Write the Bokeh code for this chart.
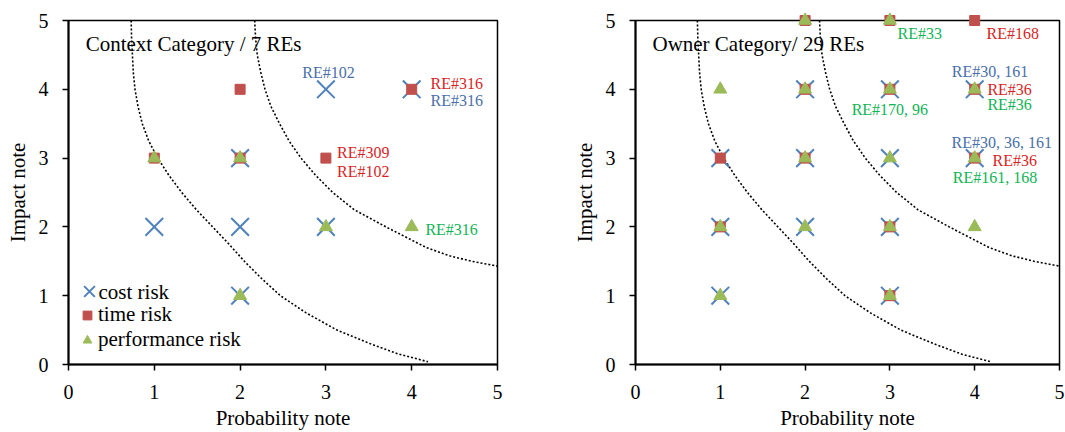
from bokeh.plotting import figure
from bokeh.layouts import row
from bokeh.models import Legend, LegendItem, FixedTicker, Range1d, Label
from bokeh.core.properties import value
from bokeh.embed import file_html
from bokeh.resources import INLINE

# ---------------- data ----------------
ticks = [0, 1, 2, 3, 4, 5]

# Context category (7 REs)
ctx_cost_x = [1, 2, 2, 3, 3, 4, 2]
ctx_cost_y = [2, 2, 3, 4, 2, 4, 1]
ctx_time_x = [1, 2, 2, 3, 4]
ctx_time_y = [3, 4, 3, 3, 4]
ctx_perf_x = [1, 2, 3, 4, 2]
ctx_perf_y = [3, 3, 2, 2, 1]

# Owner category (29 REs)
own_cost_x = [2, 3, 4, 1, 2, 3, 4, 1, 2, 3, 1, 3]
own_cost_y = [4, 4, 4, 3, 3, 3, 3, 2, 2, 2, 1, 1]
own_time_x = [2, 3, 4, 2, 3, 4, 1, 2, 4, 1, 3, 3]
own_time_y = [5, 5, 5, 4, 4, 4, 3, 3, 3, 2, 2, 1]
own_perf_x = [2, 3, 1, 2, 3, 4, 2, 3, 4, 1, 2, 3, 4, 1, 3]
own_perf_y = [5, 5, 4, 4, 4, 4, 3, 3, 3, 2, 2, 2, 2, 1, 1]

# iso-risk reference curves
inner_x = [0.73, 0.735, 0.745, 0.755, 0.775, 0.81, 0.86, 0.935, 1.04, 1.17, 1.32, 1.49,
           1.68, 1.87, 2.05, 2.25, 2.47, 2.77, 3.13, 3.52, 3.85, 4.19]
inner_y = [5.0, 4.75, 4.5, 4.25, 4.0, 3.75, 3.5, 3.25, 3.0, 2.75, 2.5, 2.25,
           2.0, 1.75, 1.5, 1.25, 1.0, 0.75, 0.5, 0.3, 0.15, 0.04]
outer_x = [2.17, 2.18, 2.20, 2.24, 2.29, 2.36, 2.46, 2.57, 2.71, 2.88, 3.08, 3.33,
           3.70, 4.17, 4.44, 4.70, 5.0]
outer_y = [5.0, 4.75, 4.5, 4.25, 4.0, 3.75, 3.5, 3.25, 3.0, 2.75, 2.5, 2.25,
           2.0, 1.70, 1.58, 1.50, 1.43]

# annotations: anchor point, text, series
ctx_ann_x = [3, 4, 4, 3, 3, 4]
ctx_ann_y = [4, 4, 4, 3, 3, 2]
ctx_ann_text = ["RE#102", "RE#316", "RE#316", "RE#309", "RE#102", "RE#316"]
ctx_ann_series = ["cost", "time", "cost", "time", "time", "perf"]

own_ann_x = [3, 4, 4, 4, 4, 3, 4, 4, 4]
own_ann_y = [5, 5, 4, 4, 4, 4, 3, 3, 3]
own_ann_text = ["RE#33", "RE#168", "RE#30, 161", "RE#36", "RE#36", "RE#170, 96",
                "RE#30, 36, 161", "RE#36", "RE#161, 168"]
own_ann_series = ["perf", "time", "cost", "time", "perf", "perf", "cost", "time", "perf"]

series_names = ["cost risk", "time risk", "performance risk"]
titles = ["Context Category / 7 REs", "Owner Category/ 29 REs"]

# ---------------- styles / layout ----------------
FONT = "Liberation Serif"
MARK = {"cost": "#4F81BD", "time": "#C0504D", "perf": "#9BBB59"}
TXT = {"cost": "#4A6FAA", "time": "#D71F26", "perf": "#10B455"}

# label offsets (data units) and alignment, per annotation
ctx_off = [(0.03, 0.25, "center"), (0.22, 0.09, "left"), (0.22, -0.17, "left"),
           (0.13, 0.08, "left"), (0.13, -0.20, "left"), (0.16, -0.04, "left")]
own_off = [(0.09, -0.19, "left"), (0.14, -0.19, "left"), (0.18, 0.26, "center"),
           (0.15, 0.0, "left"), (0.15, -0.22, "left"), (0.0, -0.29, "center"),
           (0.32, 0.22, "center"), (0.21, -0.03, "left"), (0.24, -0.28, "center")]


def make_fig(width, left_border, right_border, title, cost, time, perf,
             ann, off, legend=False):
    p = figure(width=width, height=432, x_range=Range1d(0, 5), y_range=Range1d(0, 5),
               output_backend="svg", toolbar_location=None,
               min_border_left=left_border, min_border_right=right_border,
               min_border_top=20, min_border_bottom=66)
    p.grid.visible = False
    p.outline_line_color = "black"
    p.outline_line_width = 1.5
    p.background_fill_color = "white"
    p.border_fill_color = "white"

    for ax in (p.xaxis[0], p.yaxis[0]):
        ax.ticker = FixedTicker(ticks=ticks)
        ax.minor_tick_line_color = None
        ax.major_tick_in = 0
        ax.major_tick_out = 6
        ax.major_tick_line_color = "black"
        ax.major_tick_line_width = 1.5
        ax.axis_line_color = "black"
        ax.axis_line_width = 2
        ax.major_label_text_font = FONT
        ax.major_label_text_font_size = "20px"
        ax.major_label_text_color = "black"
        ax.axis_label_text_font = FONT
        ax.axis_label_text_font_size = "21px"
        ax.axis_label_text_font_style = "normal"
        ax.axis_label_text_color = "black"
        ax.major_label_standoff = 14
    p.xaxis.axis_label = "Probability note"
    p.yaxis.axis_label = "Impact note"
    p.xaxis.axis_label_standoff = 4
    p.yaxis.axis_label_standoff = 6

    for cx, cy in ((inner_x, inner_y), (outer_x, outer_y)):
        p.line(cx, cy, line_color="black", line_width=1.6, line_dash="2 2")

    r_cost = p.scatter(cost[0], cost[1], marker="x", size=25,
                       line_color=MARK["cost"], line_width=2, level="overlay")
    r_time = p.scatter(time[0], time[1], marker="square", size=10,
                       fill_color=MARK["time"], line_color=MARK["time"], level="overlay")
    r_perf = p.scatter(perf[0], perf[1], marker="triangle", size=13,
                       fill_color=MARK["perf"], line_color=MARK["perf"], level="overlay")

    p.text(x=[0.2], y=[4.66], text=[title], text_font=value(FONT),
           text_font_size="21px", text_color="black", text_baseline="middle",
           text_align="left")

    ax_, ay_, at_, as_ = ann
    for align in ("left", "center"):
        xs, ys, ts, cs = [], [], [], []
        for i in range(len(at_)):
            dx, dy, al = off[i]
            if al != align:
                continue
            xs.append(ax_[i] + dx)
            ys.append(ay_[i] + dy)
            ts.append(at_[i])
            cs.append(TXT[as_[i]])
        if xs:
            p.text(x=xs, y=ys, text=ts, text_color=cs, text_font=value(FONT),
                   text_font_size="16px", text_align=align, text_baseline="middle")

    if legend:
        common = dict(background_fill_alpha=0, border_line_alpha=0,
                      label_text_font=FONT, label_text_font_size="21px",
                      label_text_color="black", padding=0, margin=0, spacing=0)
        # larger glyph box only so that the legend's x marker gets its real size
        lg_a = Legend(items=[LegendItem(label=" ", renderers=[r_cost])],
                      location=(2, 54), glyph_width=38, glyph_height=38,
                      label_height=38, label_standoff=0, **common)
        lg_b = Legend(items=[LegendItem(label=series_names[1], renderers=[r_time]),
                             LegendItem(label=series_names[2], renderers=[r_perf])],
                      location=(8, 12), glyph_width=22, glyph_height=24,
                      label_height=24, label_standoff=0, **common)
        p.add_layout(lg_a)
        p.add_layout(lg_b)
        p.add_layout(Label(x=30, y=73, x_units="screen", y_units="screen",
                           text=series_names[0], text_font=FONT, text_font_size="21px",
                           text_color="black", text_baseline="middle"))
    return p


p1 = make_fig(507, 68, 10, titles[0],
              (ctx_cost_x, ctx_cost_y), (ctx_time_x, ctx_time_y), (ctx_perf_x, ctx_perf_y),
              (ctx_ann_x, ctx_ann_y, ctx_ann_text, ctx_ann_series), ctx_off, legend=True)
p2 = make_fig(558, 128, 6, titles[1],
              (own_cost_x, own_cost_y), (own_time_x, own_time_y), (own_perf_x, own_perf_y),
              (own_ann_x, own_ann_y, own_ann_text, own_ann_series), own_off)

layout = row(p1, p2)
open("out.html", "w").write(file_html(layout, INLINE))
